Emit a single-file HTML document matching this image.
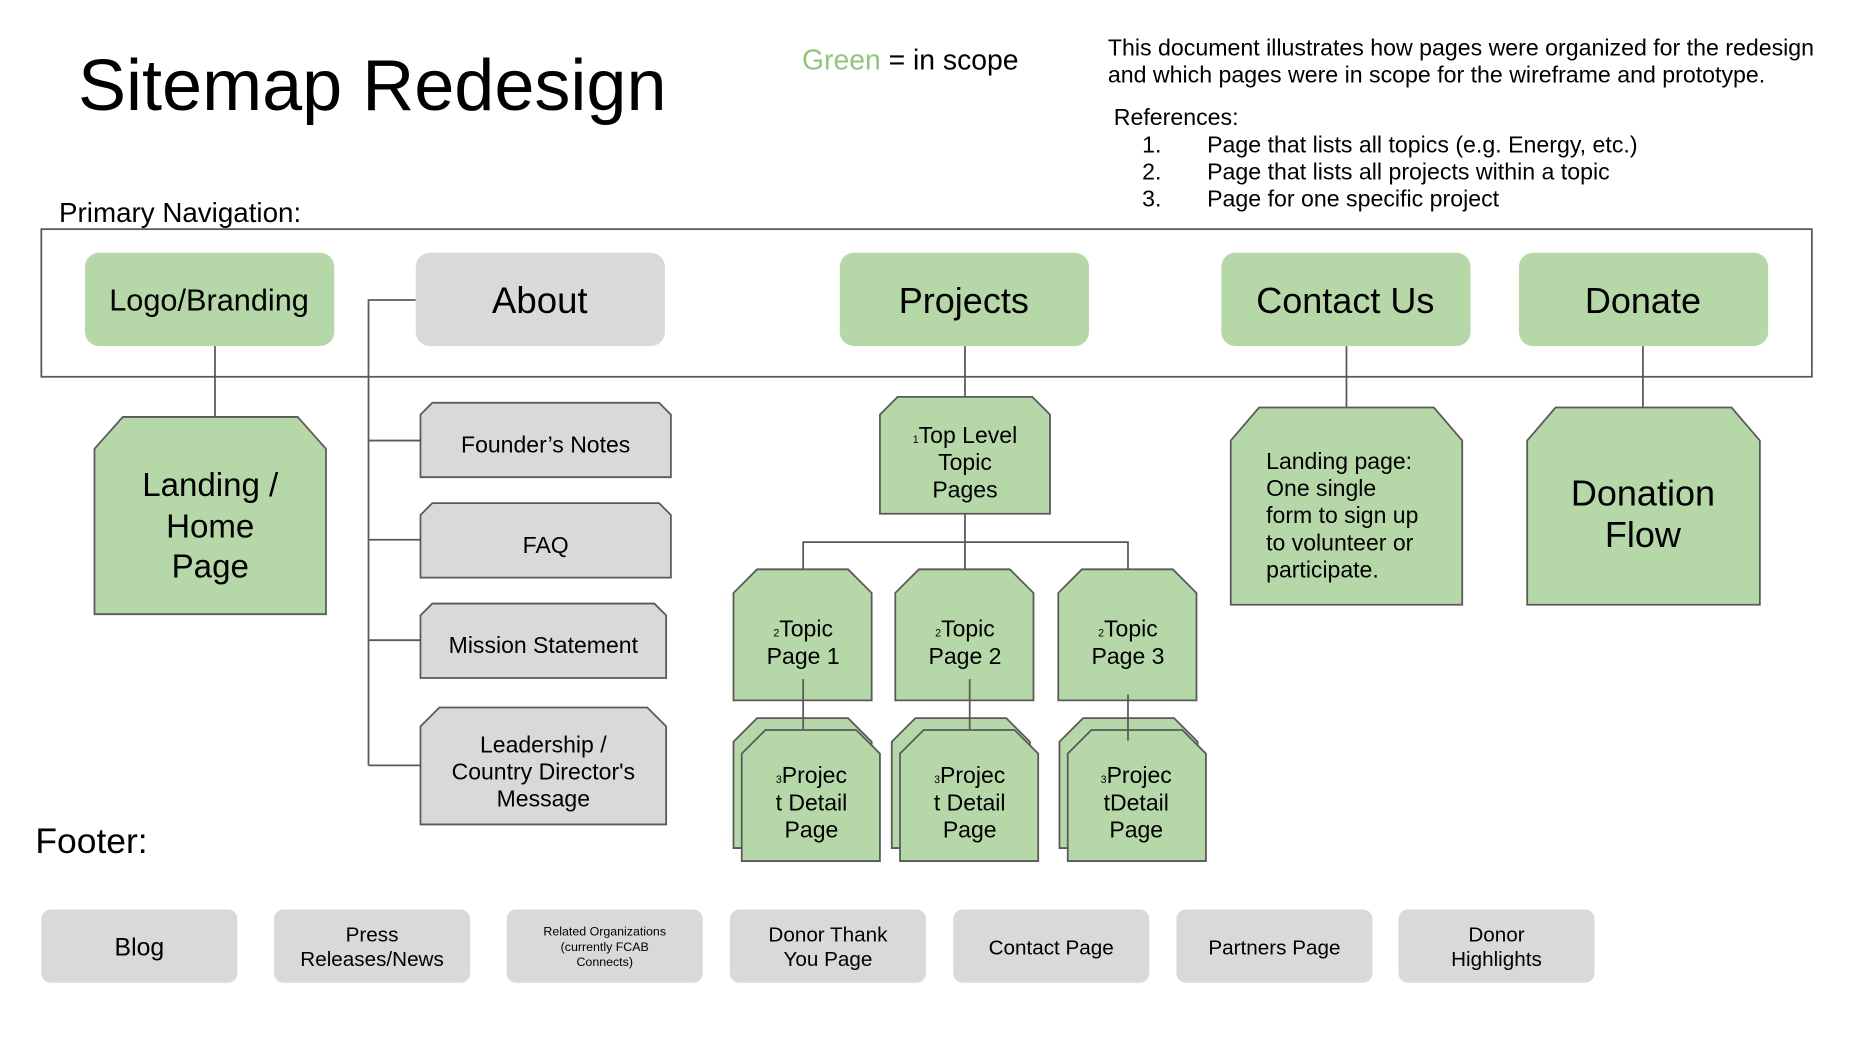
<!DOCTYPE html>
<html><head><meta charset="utf-8"><style>
html,body{margin:0;padding:0;background:#fff;}
svg{display:block;}
text{font-family:"Liberation Sans",Arial,sans-serif;fill:#000;}
</style></head><body>
<svg width="1852" height="1040" viewBox="0 0 1568 880.5" preserveAspectRatio="none" xmlns="http://www.w3.org/2000/svg">
<g stroke="#595959" stroke-width="1.5" fill="none">
<rect x="35" y="194" width="1499" height="125"/>
</g>
<text x="66" y="93" font-size="61">Sitemap Redesign</text>
<text x="679" y="59" font-size="24"><tspan fill="#93c47d">Green</tspan> = in scope</text>
<g font-size="19.6">
<text x="938" y="47">This document illustrates how pages were organized for the redesign</text>
<text x="938" y="70">and which pages were in scope for the wireframe and prototype.</text>
<text x="943" y="106">References:</text>
<text x="967" y="129">1.</text><text x="1022" y="129">Page that lists all topics (e.g. Energy, etc.)</text>
<text x="967" y="152">2.</text><text x="1022" y="152">Page that lists all projects within a topic</text>
<text x="967" y="175">3.</text><text x="1022" y="175">Page for one specific project</text>
</g>
<text x="50" y="188" font-size="23.5">Primary Navigation:</text>
<text x="30" y="722" font-size="30">Footer:</text>

<!-- connectors -->
<g stroke="#595959" stroke-width="1.5" fill="none">
<path d="M182 293V368"/>
<path d="M352 254H312V648M312 373H356M312 457H356M312 542H356M312 648H356"/>
<path d="M817 293V336M817 435V482M680 482V459H955V482"/>
<path d="M1140 293V345M1391 293V352"/>
</g>

<!-- nav boxes -->
<g>
<rect x="72" y="214" width="211" height="79" rx="12" fill="#b6d7a8"/>
<rect x="352" y="214" width="211" height="79" rx="12" fill="#d9d9d9"/>
<rect x="711" y="214" width="211" height="79" rx="12" fill="#b6d7a8"/>
<rect x="1034" y="214" width="211" height="79" rx="12" fill="#b6d7a8"/>
<rect x="1286" y="214" width="211" height="79" rx="12" fill="#b6d7a8"/>
</g>
<g text-anchor="middle">
<text x="177" y="263" font-size="26">Logo/Branding</text>
<text x="457" y="265" font-size="31">About</text>
<text x="816" y="265" font-size="30.5">Projects</text>
<text x="1139" y="265" font-size="30.5">Contact Us</text>
<text x="1391" y="265" font-size="30.5">Donate</text>
</g>

<!-- chamfered boxes -->
<g stroke="#595959" stroke-width="1.5">
<path d="M104 353H252L276 380V520H80V380Z" fill="#b6d7a8"/>
<path d="M366 341H558L568 351V404H356V351Z" fill="#d9d9d9"/>
<path d="M366 426H558L568 436V489H356V436Z" fill="#d9d9d9"/>
<path d="M366 511H554L564 521V574H356V521Z" fill="#d9d9d9"/>
<path d="M372 599H548L564 615V698H356V615Z" fill="#d9d9d9"/>
<path d="M760 336H874L889 351V435H745V351Z" fill="#b6d7a8"/>
<path d="M641 482H718L738 502V593H621V502Z" fill="#b6d7a8"/>
<path d="M778 482H855L875 502V593H758V502Z" fill="#b6d7a8"/>
<path d="M916 482H993L1013 502V593H896V502Z" fill="#b6d7a8"/>
<path d="M641 608H718L738 628V718H621V628Z" fill="#b6d7a8"/>
<path d="M648 618H725L745 638V729H628V638Z" fill="#b6d7a8"/>
<path d="M775 608H852L872 628V718H755V628Z" fill="#b6d7a8"/>
<path d="M782 618H859L879 638V729H762V638Z" fill="#b6d7a8"/>
<path d="M917 608H994L1014 628V718H897V628Z" fill="#b6d7a8"/>
<path d="M924 618H1001L1021 638V729H904V638Z" fill="#b6d7a8"/>
<path d="M1066 345H1214L1238 373V512H1042V373Z" fill="#b6d7a8"/>
<path d="M1317 345H1466L1490 373V512H1293V373Z" fill="#b6d7a8"/>
</g>
<g stroke="#595959" stroke-width="1.5">
<path d="M680 575V618M821 575V618M955 588V627"/>
</g>

<g text-anchor="middle">
<g font-size="28"><text x="178" y="420">Landing /</text><text x="178" y="455">Home</text><text x="178" y="489">Page</text></g>
<g font-size="19.5">
<text x="462" y="383">Founder’s Notes</text>
<text x="462" y="468">FAQ</text>
<text x="460" y="553">Mission Statement</text>
<text x="460" y="637">Leadership /</text><text x="460" y="660">Country Director's</text><text x="460" y="683">Message</text>
<text x="817" y="375"><tspan font-size="9">1</tspan>Top Level</text><text x="817" y="398">Topic</text><text x="817" y="421">Pages</text>
<text x="680" y="539"><tspan font-size="9">2</tspan>Topic</text><text x="680" y="562">Page 1</text>
<text x="817" y="539"><tspan font-size="9">2</tspan>Topic</text><text x="817" y="562">Page 2</text>
<text x="955" y="539"><tspan font-size="9">2</tspan>Topic</text><text x="955" y="562">Page 3</text>
<text x="687" y="663"><tspan font-size="9">3</tspan>Projec</text><text x="687" y="686">t Detail</text><text x="687" y="709">Page</text>
<text x="821" y="663"><tspan font-size="9">3</tspan>Projec</text><text x="821" y="686">t Detail</text><text x="821" y="709">Page</text>
<text x="962" y="663"><tspan font-size="9">3</tspan>Projec</text><text x="962" y="686">tDetail</text><text x="962" y="709">Page</text>
</g>
<g font-size="30.5"><text x="1391" y="428">Donation</text><text x="1391" y="463">Flow</text></g>
</g>
<g font-size="19.5">
<text x="1072" y="397">Landing page:</text>
<text x="1072" y="420">One single</text>
<text x="1072" y="443">form to sign up</text>
<text x="1072" y="466">to volunteer or</text>
<text x="1072" y="489">participate.</text>
</g>

<!-- footer -->
<g fill="#d9d9d9">
<rect x="35" y="770" width="166" height="62" rx="8"/>
<rect x="232" y="770" width="166" height="62" rx="8"/>
<rect x="429" y="770" width="166" height="62" rx="8"/>
<rect x="618" y="770" width="166" height="62" rx="8"/>
<rect x="807" y="770" width="166" height="62" rx="8"/>
<rect x="996" y="770" width="166" height="62" rx="8"/>
<rect x="1184" y="770" width="166" height="62" rx="8"/>
</g>
<g text-anchor="middle" font-size="17.5">
<text x="118" y="809" font-size="21">Blog</text>
<text x="315" y="797">Press</text><text x="315" y="818">Releases/News</text>
<text x="512" y="792" font-size="10.5">Related Organizations</text>
<text x="512" y="805" font-size="10.5">(currently FCAB</text>
<text x="512" y="818" font-size="10.5">Connects)</text>
<text x="701" y="797">Donor Thank</text><text x="701" y="818">You Page</text>
<text x="890" y="808">Contact Page</text>
<text x="1079" y="808">Partners Page</text>
<text x="1267" y="797">Donor</text><text x="1267" y="818">Highlights</text>
</g>
</svg>
</body></html>
